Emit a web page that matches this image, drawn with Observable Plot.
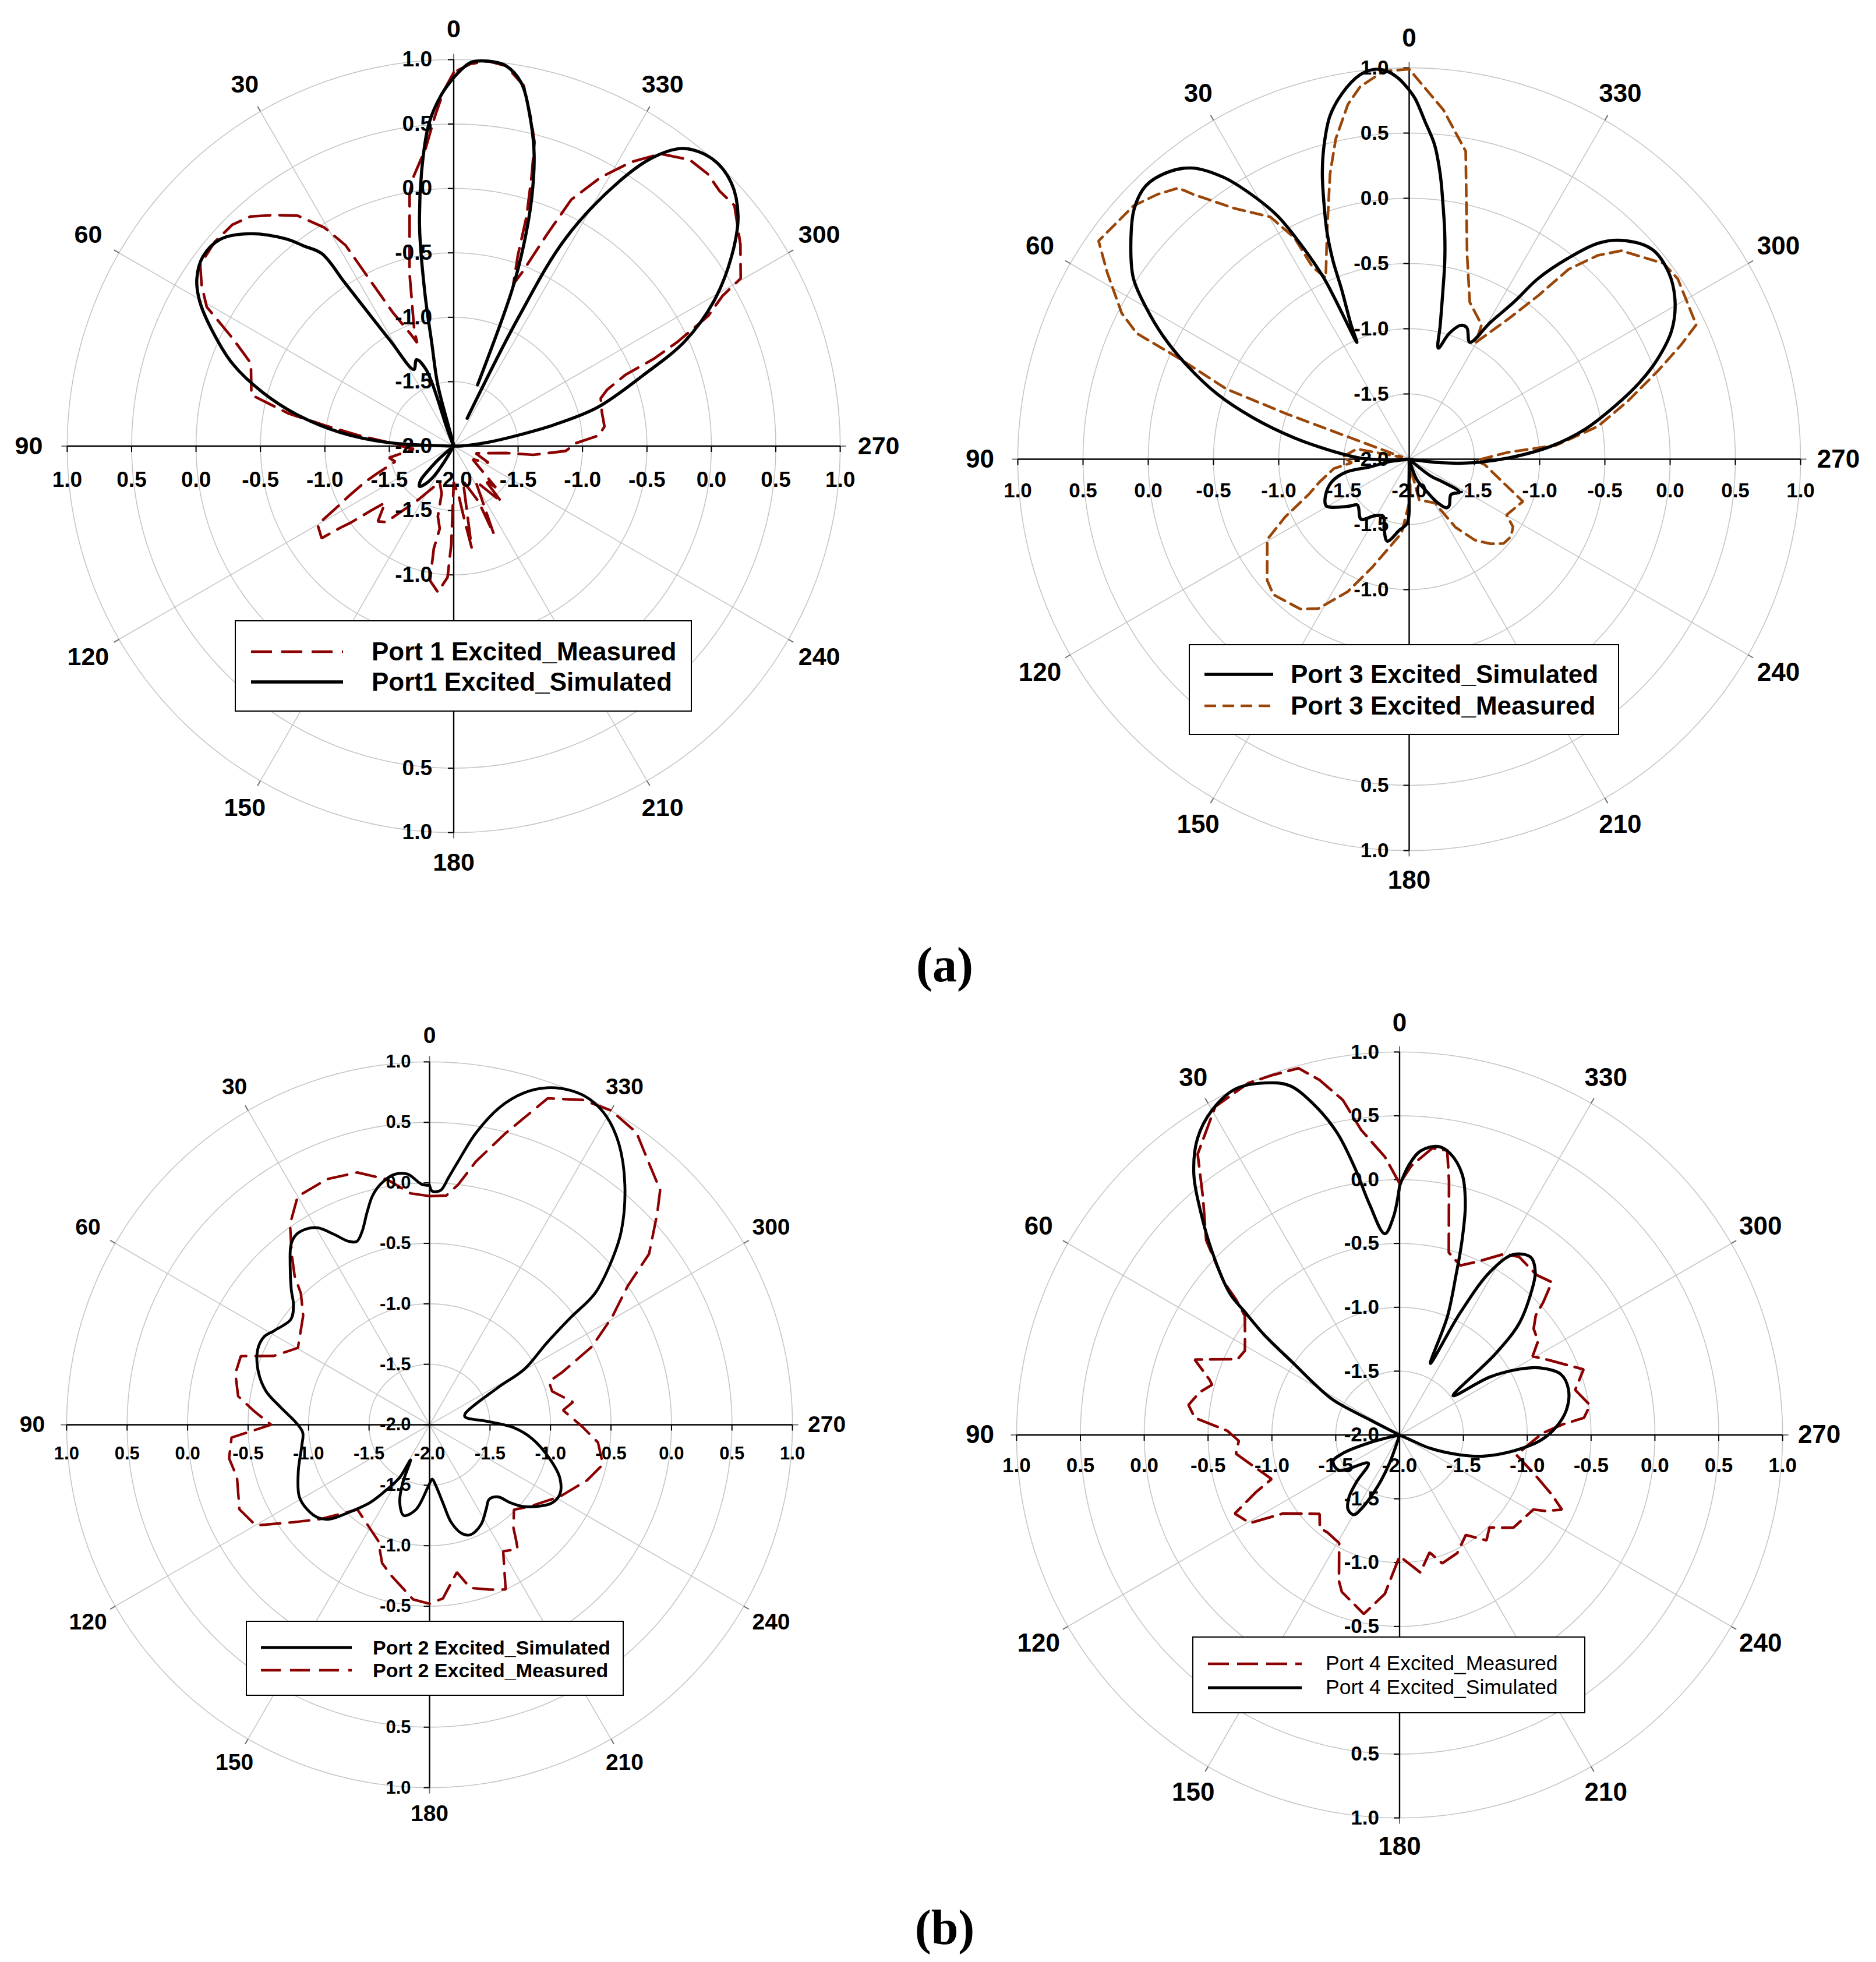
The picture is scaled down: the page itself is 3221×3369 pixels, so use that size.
<!DOCTYPE html>
<html>
<head>
<meta charset="utf-8">
<script src="https://cdn.jsdelivr.net/npm/d3@7"></script>
<script src="https://cdn.jsdelivr.net/npm/@observablehq/plot@0.6"></script>
<style>
  body { margin: 0; background: #fff; }
  #page { position: relative; width: 3221px; height: 3369px; background: #fff; overflow: hidden; }
  .panel { position: absolute; }
  .legend { position: absolute; background: #fff; border: 2px solid #000; box-sizing: border-box; }
  .legend span { position: absolute; white-space: nowrap; line-height: 1; transform: translateY(-50%); font-family: "Liberation Sans", Arial, Helvetica, sans-serif; color: #000; }
  .legend svg { position: absolute; overflow: visible; }
  .caption { position: absolute; font-family: "Liberation Serif", "Times New Roman", serif; font-weight: bold; font-size: 84px; line-height: 1; transform: translate(-50%, -50%); color: #000; }
</style>
</head>
<body>
<div id="page"></div>
<script>
// ---------------- data ----------------
const angleTicks = [0, 30, 60, 90, 120, 150, 180, 210, 240, 270, 300, 330];
const radialTicks = [-2, -1.5, -1, -0.5, 0, 0.5, 1];
const captions = ["(a)", "(b)"];
const legendPort1 = ["Port 1 Excited_Measured", "Port1 Excited_Simulated"];
const legendPort3 = ["Port 3 Excited_Simulated", "Port 3 Excited_Measured"];
const legendPort2 = ["Port 2 Excited_Simulated", "Port 2 Excited_Measured"];
const legendPort4 = ["Port 4 Excited_Measured", "Port 4 Excited_Simulated"];

// [angle (deg), normalised level]; null = break in the trace
const port1Simulated = [[0,0.86],[2,0.73],[4.4,0.51],[6.7,0.14],[8.9,-0.29],[10.7,-0.8],[12,-1.18],[14.6,-1.51],[16.5,-2],[20.7,-1.86],[19.8,-1.37],[23.3,-1.27],[27.5,-1.33],[31,-1.05],[32.7,-0.76],[33.7,-0.47],[34.4,-0.19],[36.8,-0.06],[39,0.07],[43.7,0.28],[48.4,0.42],[52.9,0.44],[56.9,0.38],[60.3,0.27],[64.4,0.08],[69.6,-0.17],[74.3,-0.46],[78.8,-0.77],[83.1,-1.11],[86.8,-1.48],[90,-2],[128,-2],[131,-1.85],[133.3,-1.75],[136,-1.63],[139.7,-1.59],[143,-1.63],[146.7,-1.72],[149,-1.85],[151,-2],[270,-2],[271,-1.94],[276.4,-1.73],[279.5,-1.5],[282,-1.2],[285,-0.85],[290.5,-0.43],[294.4,-0.03],[299.1,0.31],[304.3,0.61],[309,0.84],[313.5,0.97],[318,1.0],[322.3,0.92],[325.3,0.73],[328,0.42],[331.7,-0.17],[333.3,-0.89],[334.2,-1.76],null,[338.7,-1.49],[339.5,-0.71],[340.8,-0.35],[342.5,0.01],[344.6,0.35],[347.1,0.64],[349.5,0.87],[352.2,0.98],[354.9,1.0],[357.5,0.98],[360,0.86]];
const port1Measured = [[0,0.90],[1.6,0.76],[3.3,0.56],[5.4,0.32],[8.4,0.12],[9.9,-0.01],[14.3,-0.61],[18.8,-1.05],[19.5,-1.15],[21,-1.07],[24.5,-0.86],[26.8,-0.55],[28.3,-0.23],[30.6,-0.03],[34.1,0.16],[37.8,0.27],[41.5,0.38],[45,0.43],[49.5,0.44],[54.4,0.42],[57.5,0.32],[60.6,0.20],[64,-0.09],[67.8,-0.30],[75.8,-0.38],[78.8,-0.69],[81,-1.0],[83.5,-1.25],[87.6,-1.53],[91,-1.62],[94.2,-1.69],[100.2,-1.49],[104.8,-1.53],[109.9,-1.36],[112,-1.26],[115.6,-1.09],[117.3,-1.0],[120,-0.78],[124.9,-0.75],[125.8,-0.92],[126.6,-1.0],[128,-1.19],[129.5,-1.31],[134.8,-1.17],[138.3,-1.21],[142.2,-1.38],[146.5,-1.5],[158.7,-1.7],[165.8,-1.62],[167.3,-1.44],[170.4,-1.35],[169,-1.19],[170,-0.94],[173.8,-0.86],[177.3,-0.98],[178.6,-1.24],[180,-1.72],[186,-1.6],[188,-1.45],[190,-1.2],[195,-1.72],[204.1,-1.53],[204.5,-1.25],[212,-1.68],[220.5,-1.43],[223,-1.65],[225.4,-1.54],[235,-1.82],[244.4,-1.7],[252,-1.82],[262.5,-1.59],[263.7,-1.38],[267.5,-1.13],[271.4,-1.05],[274.2,-0.87],[277.4,-0.82],[283,-0.82],[288,-0.80],[290.2,-0.73],[292.5,-0.56],[293.6,-0.30],[295,-0.08],[297.1,0.22],[299.2,0.39],[300.3,0.58],[305.1,0.72],[310.6,0.87],[313.8,0.86],[317,0.89],[320.5,0.88],[324.7,0.78],[328,0.60],[331.3,0.38],[334.5,0.12],[336.2,-0.2],[338.5,-0.55],[339.8,-0.66],[341.4,-0.44],[342.4,-0.13],[343.9,0.18],[345.1,0.44],[346.6,0.60],[349,0.85],[352.2,0.98],[354.9,1.0],[357.5,0.97],[360,0.90]];

const port3Simulated = [[0,0.83],[1.6,0.92],[3.3,0.98],[5.1,1.0],[7.3,0.97],[10.4,0.85],[13,0.70],[15.2,0.49],[16.9,0.29],[18.4,0.07],[19.9,-0.15],[21,-0.37],[21.7,-0.60],[23.4,-0.88],[24.1,-1.02],[25.2,-0.47],[26.8,-0.15],[28.5,0.13],[31.2,0.40],[33.4,0.59],[36.6,0.78],[39.8,0.87],[43.9,0.91],[47.7,0.85],[52.2,0.70],[56.7,0.53],[60,0.33],[63.4,0.11],[67.1,-0.15],[71.3,-0.45],[75.1,-0.76],[79.4,-1.10],[84.6,-1.44],[88.6,-1.62],[92,-1.85],[94,-2],[97,-1.85],[101,-1.70],[101.7,-1.50],[106.4,-1.38],[113.6,-1.30],[119.1,-1.27],[121.8,-1.30],[128.3,-1.42],[131.6,-1.47],[141.3,-1.41],[148.4,-1.49],[155.5,-1.52],[160.3,-1.43],[165,-1.35],[172.1,-1.45],[178.2,-1.51],[179.5,-1.8],[180,-2],[194,-2],[200.7,-1.83],[208.9,-1.71],[212.8,-1.61],[217.5,-1.53],[220.8,-1.53],[229.7,-1.58],[236.8,-1.54],[235.9,-1.69],[232,-1.79],[230,-2],[260,-2],[263.7,-1.75],[266.8,-1.51],[270.7,-1.24],[275.2,-0.91],[279.7,-0.63],[284.5,-0.37],[288.4,-0.14],[291.9,0.05],[296.1,0.24],[300.7,0.37],[305.7,0.45],[310.9,0.46],[315.8,0.34],[318.8,0.20],[321.7,-0.04],[324.5,-0.30],[326.3,-0.55],[329.3,-0.78],[332.6,-0.99],[336.3,-0.90],[338.9,-0.90],[342.4,-0.99],[345.3,-1.12],[347,-0.94],[348.7,-0.68],[349.8,-0.46],[351.1,-0.24],[352.5,-0.02],[353.8,0.20],[355.4,0.42],[357.3,0.59],[359,0.76],[360,0.83]];
const port3Measured = [[0,0.99],[3.8,0.98],[7.5,0.88],[9.8,0.76],[12.9,0.52],[15.5,0.27],[19.9,-0.15],[24.7,-0.47],[26.7,-0.35],[27.4,-0.09],[29.8,0.14],[34.8,0.34],[39.2,0.62],[40.4,0.73],[43.5,0.80],[47.4,0.87],[54.9,0.91],[58.3,0.72],[63.1,0.47],[65.2,0.30],[66.4,-0.09],[69,-0.5],[69.7,-1.0],[70.3,-1.72],[74,-1.95],[79,-1.59],[88,-1.49],[93.5,-1.56],[97,-1.42],[104.3,-1.29],[109.1,-1.19],[115,-0.95],[119.5,-0.75],[130.4,-0.57],[134.9,-0.53],[144,-0.58],[148.7,-0.66],[155.1,-0.88],[161,-1.12],[166.2,-1.28],[174.1,-1.43],[181.7,-1.70],[186,-1.95],[193.8,-1.68],[210.4,-1.61],[214.2,-1.37],[219.1,-1.20],[223.9,-1.10],[228.2,-1.03],[232.8,-1.02],[236.9,-1.05],[240.2,-1.14],[249.6,-1.07],[257.1,-1.28],[265.9,-1.42],[268.8,-1.49],[274,-1.24],[275.4,-0.87],[279.9,-0.53],[284.8,-0.27],[289.5,0.02],[292.8,0.26],[295.1,0.43],[303.9,0.48],[307.6,0.46],[314.5,0.28],[317.2,0.13],[320,-0.10],[321.7,-0.40],[324.7,-0.68],[330.3,-0.97],[331.7,-0.83],[338.9,-0.71],[344.2,-0.37],[349.6,0.40],[354.4,0.69],[360,0.99]];

const port2Simulated = [[0,-0.02],[1.9,-0.01],[5,0.08],[8,0.09],[11.5,0.03],[14,-0.05],[16.4,-0.17],[19.3,-0.31],[21.7,-0.37],[23.9,-0.34],[26.6,-0.24],[29.5,-0.13],[31.9,-0.09],[35,-0.08],[37.5,-0.12],[40.9,-0.24],[45.6,-0.40],[48.6,-0.50],[52.7,-0.56],[58.7,-0.50],[62.1,-0.45],[66.5,-0.45],[72.9,-0.52],[78.4,-0.62],[83.3,-0.76],[89.3,-0.90],[93.6,-0.95],[99.3,-0.93],[109.4,-0.85],[118.9,-0.77],[124.7,-0.77],[129.8,-0.80],[133.2,-0.86],[137.2,-1.01],[142.6,-1.19],[146.4,-1.35],[150.5,-1.50],[151.6,-1.67],[155.4,-1.46],[159.1,-1.31],[164.2,-1.22],[170.9,-1.29],[178.8,-1.49],[182.8,-1.55],[185.3,-1.51],[189.8,-1.34],[192.6,-1.17],[196.7,-1.06],[200.3,-1.03],[207.1,-1.07],[213.9,-1.16],[218.5,-1.21],[223.4,-1.18],[226.1,-1.07],[229.4,-0.96],[237.4,-0.80],[242.2,-0.78],[248,-0.84],[254.3,-0.97],[262.1,-1.14],[267.9,-1.30],[273,-1.51],[282.7,-1.70],[287.5,-1.69],[298.5,-1.36],[300.4,-1.09],[304.9,-0.82],[307.2,-0.54],[308.5,-0.25],[312.2,0.04],[315.4,0.26],[320.9,0.56],[326,0.80],[330.2,0.94],[333.9,1.0],[337.1,1.0],[340.8,0.95],[344.2,0.85],[347.5,0.69],[351,0.44],[353.8,0.19],[355.6,0.05],[357.3,-0.06],[359.3,-0.07],[360,-0.02]];
const port2Measured = [[0,-0.11],[4.7,-0.08],[9.9,0.06],[16,0.17],[22.6,0.20],[30,0.18],[34.8,0.02],[38.8,-0.18],[42.2,-0.34],[44.4,-0.48],[49.2,-0.62],[59.7,-0.74],[66.2,-0.59],[70,-0.34],[75.2,-0.34],[81.5,-0.40],[85.4,-0.54],[90,-0.69],[93.7,-0.36],[99.5,-0.32],[105.3,-0.35],[114,-0.28],[120.1,-0.34],[125.7,-0.62],[130.9,-0.81],[139.6,-1.08],[149.1,-1.02],[156.2,-0.95],[161.1,-0.79],[166,-0.71],[174.6,-0.55],[180,-0.52],[184.4,-0.56],[190.5,-0.76],[194,-0.61],[200,-0.55],[204.8,-0.50],[210.2,-0.79],[215.3,-0.74],[216.7,-0.80],[219.1,-0.90],[224.8,-1.01],[230.9,-0.93],[241.1,-0.77],[250.5,-0.62],[257.1,-0.53],[264,-0.60],[269.4,-0.74],[276.2,-0.89],[279,-0.80],[285.3,-0.95],[289.9,-0.95],[291.6,-0.82],[295.7,-0.51],[300.5,-0.25],[305,0.0],[307.9,0.30],[312.9,0.57],[315.5,0.72],[320.3,0.83],[324.7,0.96],[330,1.0],[334.7,0.97],[340.1,0.87],[345.4,0.49],[350,0.21],[353.2,0.0],[355.8,-0.10],[360,-0.11]];

const port4Simulated = [[0,-0.05],[1.6,-0.29],[4.2,-0.42],[7.4,-0.18],[9.5,0.12],[11.7,0.42],[14.6,0.68],[17.5,0.87],[20.8,0.95],[25.3,1.0],[29.9,0.94],[34.3,0.81],[38.3,0.60],[41.6,0.35],[45.7,0.05],[50.2,-0.27],[51.5,-0.45],[53.5,-0.68],[56,-1.0],[59,-1.22],[62.2,-1.41],[63,-1.75],[66,-2],[96,-2],[104.3,-1.77],[108,-1.53],[111.6,-1.44],[120.2,-1.45],[132.2,-1.67],[137.5,-1.50],[141,-1.37],[145.4,-1.29],[150.2,-1.28],[152.9,-1.36],[156.9,-1.56],[160.3,-1.76],[165,-2],[240,-2],[246,-1.91],[246.4,-1.74],[251.8,-1.50],[255.9,-1.32],[262,-1.10],[267.6,-0.90],[272.5,-0.78],[278.4,-0.68],[285,-0.63],[290.6,-0.65],[295.5,-0.78],[298.8,-0.93],[302.7,-1.16],[306.2,-1.48],[310.2,-1.02],[313,-0.72],[317.3,-0.48],[320.2,-0.34],[323.6,-0.27],[327.8,-0.33],[331,-0.54],[333.6,-0.93],[336.7,-1.39],[338,-1.0],[340.5,-0.68],[342.2,-0.40],[344.1,-0.12],[346.5,0.10],[349.8,0.24],[352.4,0.28],[355.8,0.23],[358.1,0.11],[360,-0.05]];
const port4Measured = [[0,-0.03],[3,0.18],[7.2,0.41],[9.6,0.66],[12.7,0.85],[15.4,0.98],[19.6,0.99],[23.3,1.0],[29.3,0.95],[35.7,0.71],[39.7,0.41],[44.8,0.15],[48.9,-0.17],[50.4,-0.34],[52.4,-0.47],[57.2,-0.56],[61.4,-0.62],[64.9,-0.60],[69.8,-0.29],[73.8,-0.45],[75,-0.48],[77.9,-0.40],[81.9,-0.33],[85.2,-0.39],[88.6,-0.65],[92.1,-0.74],[96.5,-0.71],[102.1,-0.83],[109,-0.94],[111.7,-0.79],[115.5,-0.57],[120.5,-0.64],[124,-0.90],[134.6,-1.12],[139.4,-1.04],[143.5,-1.05],[150.8,-1.03],[157.5,-0.76],[159.8,-0.69],[168.7,-0.57],[174.7,-0.75],[180,-1.05],[188.6,-0.91],[194.3,-1.05],[198.4,-0.94],[206,-0.97],[213.5,-1.06],[219.5,-0.93],[224.2,-0.99],[227.7,-0.92],[230.8,-0.85],[240.9,-0.80],[242.5,-0.71],[245.3,-0.60],[248.6,-0.72],[253.8,-0.90],[260.2,-1.07],[265,-1.0],[270.7,-0.88],[273.7,-0.72],[275.3,-0.55],[278.9,-0.49],[284.4,-0.58],[289.6,-0.47],[296.6,-0.69],[300.6,-0.79],[304.1,-0.69],[308.4,-0.66],[311.3,-0.58],[312.7,-0.47],[315.1,-0.31],[319.4,-0.35],[326.1,-0.32],[329.9,-0.36],[335.7,-0.51],[340.3,-0.59],[344.9,-0.52],[349,0.03],[350.5,0.26],[353.5,0.26],[357.5,0.11],[360,-0.03]];

// ---------------- layout (pixels) ----------------
const panels = [
  {sim: port1Simulated, meas: port1Measured, labels: legendPort1, order: ["meas", "sim"],
   cx: 778, cy: 765, unit: 221.2, measColor: "#8b0000", dash: "36,16", simW: 5.4, measW: 4.6,
   tickFont: 37, tickDx: -37, tickDy: 58, angleFont: 43, angleGap: 52,
   leg: {x: 403, y: 1065, w: 785, h: 157, rows: [52, 104], l0: 26, l1: 184, tx: 233, font: 44, weight: "bold"}},
  {sim: port3Simulated, meas: port3Measured, labels: legendPort3, order: ["sim", "meas"],
   cx: 2419, cy: 788, unit: 224, measColor: "#9a4608", dash: "20,11", simW: 5.4, measW: 4.6,
   tickFont: 35, tickDx: -35, tickDy: 54, angleFont: 44, angleGap: 51,
   leg: {x: 2041, y: 1106, w: 739, h: 156, rows: [50, 104], l0: 25, l1: 143, tx: 173, font: 44, weight: "bold"}},
  {sim: port2Simulated, meas: port2Measured, labels: legendPort2, order: ["sim", "meas"],
   cx: 737, cy: 2446, unit: 207.7, measColor: "#8b0000", dash: "34,16", simW: 4.8, measW: 4.4,
   tickFont: 31, tickDx: -32, tickDy: 50, angleFont: 39, angleGap: 45,
   leg: {x: 422, y: 2783, w: 649, h: 129, rows: [44, 83], l0: 24, l1: 180, tx: 216, font: 34, weight: "bold"}},
  {sim: port4Simulated, meas: port4Measured, labels: legendPort4, order: ["meas", "sim"],
   cx: 2402, cy: 2463, unit: 219.2, measColor: "#8b0000", dash: "36,14", simW: 5.2, measW: 4.6,
   tickFont: 35, tickDx: -35, tickDy: 53, angleFont: 44, angleGap: 49,
   leg: {x: 2047, y: 2810, w: 675, h: 132, rows: [45, 86], l0: 25, l1: 186, tx: 227, font: 35.5, weight: "normal"}}
];
const captionPos = [{x: 1622, y: 1657}, {x: 1622, y: 3310}];

// ---------------- drawing ----------------
const page = document.getElementById("page");
const rad = Math.PI / 180;
const FONT = "Liberation Sans, Arial, Helvetica, sans-serif";
const X = (a, r) => -r * Math.sin(a * rad);
const Y = (a, r) => r * Math.cos(a * rad);
const rOf = v => Math.max(0, v + 2);
const sx = d => d ? X(d[0], rOf(d[1])) : NaN;
const sy = d => d ? Y(d[0], rOf(d[1])) : NaN;
const fmt = v => v.toFixed(1);

function drawPanel(p) {
  const u = p.unit;
  const half = 3 * u + 150;
  const W = Math.round(2 * half);
  const D = W / 2 / u;
  const outer = 3;
  const tk = 10 / u;
  const rings = radialTicks.filter(v => v > -2).flatMap(v => d3.range(0, 361, 1).map(a => ({v, a})));
  const outerTicks = radialTicks.filter(v => v > -2);
  // labels on the lower half of the vertical axis that the legend box covers are not shown
  const lowerLabels = outerTicks.filter(v => {
    const ypx = p.cy + (v + 2) * u;
    return ypx < p.leg.y - 12 || ypx > p.leg.y + p.leg.h + 12;
  });
  const textBase = {fontFamily: FONT, fontWeight: "bold", fill: "#000"};
  const gap = a => outer + (p.angleGap + 14 * Math.pow(Math.abs(Math.sin(a * rad)), 3)) / u;

  const svg = Plot.plot({
    width: W, height: W, margin: 0,
    x: {domain: [-D, D], axis: null},
    y: {domain: [-D, D], axis: null},
    style: {background: "transparent", maxWidth: "none", overflow: "visible"},
    marks: [
      Plot.line(rings, {x: d => X(d.a, d.v + 2), y: d => Y(d.a, d.v + 2), z: "v", stroke: "#c6c6c6", strokeWidth: 1.6}),
      Plot.link(angleTicks, {x1: 0, y1: 0, x2: a => X(a, outer), y2: a => Y(a, outer), stroke: "#c6c6c6", strokeWidth: 1.6}),
      Plot.link(angleTicks, {x1: a => X(a, outer), y1: a => Y(a, outer), x2: a => X(a, outer + tk), y2: a => Y(a, outer + tk), stroke: "#707070", strokeWidth: 2}),
      Plot.link([0], {x1: 0, y1: -outer, x2: 0, y2: outer, stroke: "#000", strokeWidth: 2.4}),
      Plot.link([0], {x1: -outer, y1: 0, x2: outer, y2: 0, stroke: "#000", strokeWidth: 2.4}),
      Plot.link(radialTicks, {x1: -tk, x2: 0, y1: v => v + 2, y2: v => v + 2, stroke: "#000", strokeWidth: 2}),
      Plot.link(outerTicks, {x1: -tk, x2: 0, y1: v => -(v + 2), y2: v => -(v + 2), stroke: "#000", strokeWidth: 2}),
      Plot.link(outerTicks, {x1: v => -(v + 2), x2: v => -(v + 2), y1: 0, y2: -tk, stroke: "#000", strokeWidth: 2}),
      Plot.link(outerTicks, {x1: v => v + 2, x2: v => v + 2, y1: 0, y2: -tk, stroke: "#000", strokeWidth: 2}),
      Plot.line(p.meas, {x: sx, y: sy, stroke: p.measColor, strokeWidth: p.measW, strokeDasharray: p.dash, curve: "linear", strokeLinejoin: "miter"}),
      Plot.line(p.sim, {x: sx, y: sy, stroke: "#000", strokeWidth: p.simW, curve: "catmull-rom"}),
      // radial scale labels on the vertical axis
      Plot.text(radialTicks, {x: 0, y: v => v + 2, text: fmt, dx: p.tickDx, textAnchor: "end", fontSize: p.tickFont, ...textBase}),
      Plot.text(lowerLabels, {x: 0, y: v => -(v + 2), text: fmt, dx: p.tickDx, textAnchor: "end", fontSize: p.tickFont, ...textBase}),
      // radial scale labels on the horizontal axis
      Plot.text(radialTicks, {x: v => -(v + 2), y: 0, text: fmt, dy: p.tickDy, fontSize: p.tickFont, ...textBase}),
      Plot.text(outerTicks, {x: v => v + 2, y: 0, text: fmt, dy: p.tickDy, fontSize: p.tickFont, ...textBase}),
      // angle labels
      Plot.text(angleTicks, {x: a => X(a, gap(a)), y: a => Y(a, gap(a)), text: a => String(a), fontSize: p.angleFont, ...textBase})
    ]
  });

  const holder = document.createElement("div");
  holder.className = "panel";
  holder.style.left = (p.cx - W / 2) + "px";
  holder.style.top = (p.cy - W / 2) + "px";
  holder.style.width = W + "px";
  holder.style.height = W + "px";
  holder.appendChild(svg);
  page.appendChild(holder);
}

function drawLegend(p) {
  const L = p.leg;
  const box = document.createElement("div");
  box.className = "legend";
  box.style.left = L.x + "px";
  box.style.top = L.y + "px";
  box.style.width = L.w + "px";
  box.style.height = L.h + "px";
  p.labels.forEach((label, i) => {
    const kind = p.order[i];
    const yy = L.rows[i];
    const s = d3.create("svg")
      .attr("width", L.l1 - L.l0).attr("height", 12)
      .style("left", L.l0 + "px").style("top", (yy - 6) + "px");
    s.append("line")
      .attr("x1", 0).attr("x2", L.l1 - L.l0).attr("y1", 6).attr("y2", 6)
      .attr("stroke", kind === "sim" ? "#000" : p.measColor)
      .attr("stroke-width", kind === "sim" ? p.simW : p.measW)
      .attr("stroke-dasharray", kind === "sim" ? null : p.dash);
    box.appendChild(s.node());
    const t = document.createElement("span");
    t.textContent = label;
    t.style.left = L.tx + "px";
    t.style.top = yy + "px";
    t.style.fontSize = L.font + "px";
    t.style.fontWeight = L.weight;
    box.appendChild(t);
  });
  page.appendChild(box);
}

panels.forEach(drawPanel);
panels.forEach(drawLegend);

captions.forEach((c, i) => {
  const d = document.createElement("div");
  d.className = "caption";
  d.textContent = c;
  d.style.left = captionPos[i].x + "px";
  d.style.top = captionPos[i].y + "px";
  page.appendChild(d);
});
</script>
</body>
</html>
